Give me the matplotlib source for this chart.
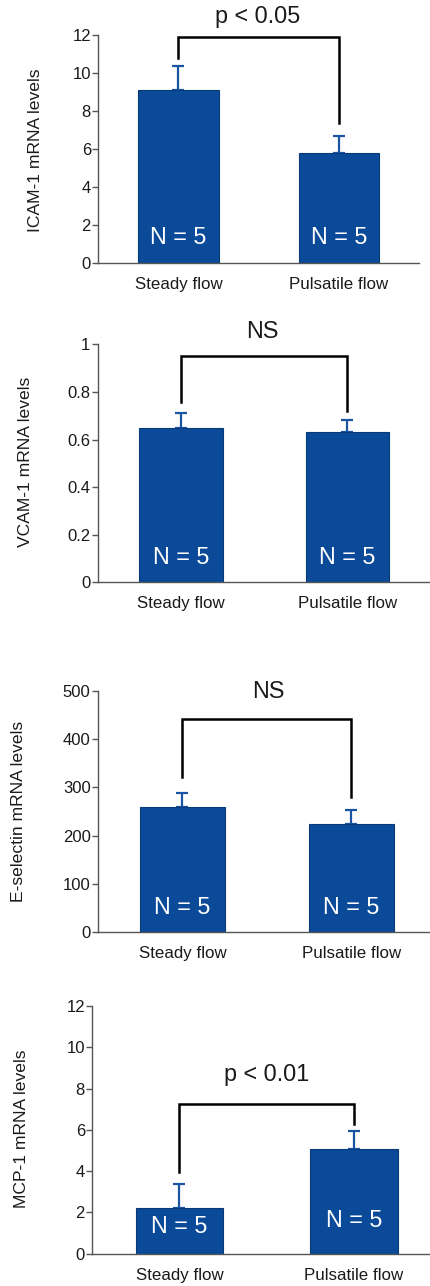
import matplotlib
matplotlib.use("Agg")
import matplotlib.pyplot as plt

plt.rcParams['font.family'] = ['Liberation Sans', 'DejaVu Sans']

# ---- data ----
groups = ["Steady flow", "Pulsatile flow"]
n_label = "N = 5"

icam_mean = [9.12, 5.82]
icam_sem = [1.23, 0.88]
vcam_mean = [0.65, 0.63]
vcam_sem = [0.063, 0.053]
esel_mean = [260, 225]
esel_sem = [28, 28]
mcp_mean = [2.21, 5.09]
mcp_sem = [1.18, 0.85]

# bracket: (top, left leg bottom, right leg bottom)
icam_bracket = (11.87, 10.8, 7.4)
vcam_bracket = (0.951, 0.759, 0.721)
esel_bracket = (441, 322, 281)
mcp_bracket = (7.27, 3.94, 6.28)

icam_sig = "p < 0.05"
vcam_sig = "NS"
esel_sig = "NS"
mcp_sig = "p < 0.01"

icam_ticks = [0, 2, 4, 6, 8, 10, 12]
vcam_ticks = [0, 0.2, 0.4, 0.6, 0.8, 1]
vcam_ticklabels = ["0", "0.2", "0.4", "0.6", "0.8", "1"]
esel_ticks = [0, 100, 200, 300, 400, 500]
mcp_ticks = [0, 2, 4, 6, 8, 10, 12]

# ---- layout ----
W, H, DPI = 431, 1286, 100
fig = plt.figure(figsize=(W / DPI, H / DPI), dpi=DPI, facecolor="white")

BAR = "#0b4a99"
EDGE = "#083a78"
ERR = "#1a55a3"
AXC = "#555555"
TXT = "#1a1a1a"


def make_panel(left_px, x0_px, spacing_px, xmax, y_top_px, y_bot_px, ymax,
               means, sems, ticks, ticklabels, ylabel, ylabel_xy, bracket,
               sig, sig_xy, n_frac):
    width_px = (xmax + 0.5) * spacing_px
    ax = fig.add_axes([left_px / W, 1 - y_bot_px / H,
                       width_px / W, (y_bot_px - y_top_px) / H])
    x = [0, 1]
    ax.bar(x, means, width=0.5, color=BAR, edgecolor=EDGE, linewidth=0.8,
           zorder=2)
    ax.errorbar(x, means, yerr=[[0, 0], sems], fmt="none", ecolor=ERR,
                elinewidth=1.6, capsize=4, capthick=1.6, zorder=1)
    top, lb, rb = bracket
    ax.plot([0, 0, 1, 1], [lb, top, top, rb], color="black", lw=1.8,
            solid_joinstyle="miter", clip_on=False, zorder=3)
    ax.text(sig_xy[0], sig_xy[1], sig, ha="center", va="center",
            fontsize=16.8, color=TXT, clip_on=False)
    for xi, fr in zip(x, n_frac):
        ax.text(xi, fr, n_label, transform=ax.get_xaxis_transform(),
                ha="center", va="center", fontsize=16.8, color="white",
                zorder=4)
    ax.set_xlim(-0.5, xmax)
    ax.set_ylim(0, ymax)
    ax.set_xticks(x)
    ax.set_xticklabels(groups, fontsize=12.2, color=TXT)
    ax.set_yticks(ticks)
    ax.set_yticklabels(ticklabels, fontsize=12, color=TXT)
    ax.tick_params(axis="x", length=0, pad=10)
    ax.tick_params(axis="y", length=4.3, width=1, color=AXC, pad=1)
    for s in ("top", "right"):
        ax.spines[s].set_visible(False)
    for s in ("left", "bottom"):
        ax.spines[s].set_color(AXC)
        ax.spines[s].set_linewidth(1)
    fig.text(ylabel_xy[0] / W, 1 - ylabel_xy[1] / H, ylabel, rotation=90,
             ha="center", va="center", fontsize=12.6, color=TXT)
    return ax


make_panel(98.25, 178.5, 160.5, 1.5, 35, 263.3, 12,
           icam_mean, icam_sem, icam_ticks, [str(t) for t in icam_ticks],
           "ICAM-1 mRNA levels", (36, 150), icam_bracket,
           icam_sig, (0.495, 12.96), (0.111, 0.111))

make_panel(97.75, 181, 166.5, 1.5, 344.3, 582.3, 1,
           vcam_mean, vcam_sem, vcam_ticks, vcam_ticklabels,
           "VCAM-1 mRNA levels", (26, 462), vcam_bracket,
           vcam_sig, (0.49, 1.052), (0.106, 0.106))

make_panel(98, 182.5, 169, 1.46, 691, 932, 500,
           esel_mean, esel_sem, esel_ticks, [str(t) for t in esel_ticks],
           "E-selectin mRNA levels", (19, 811), esel_bracket,
           esel_sig, (0.506, 499), (0.10, 0.10))

make_panel(92.25, 179.5, 174.5, 1.44, 1006, 1253.7, 12,
           mcp_mean, mcp_sem, mcp_ticks, [str(t) for t in mcp_ticks],
           "MCP-1 mRNA levels", (22, 1129), mcp_bracket,
           mcp_sig, (0.50, 8.66), (0.108, 0.136))

fig.savefig("out.png", dpi=DPI, facecolor="white")
